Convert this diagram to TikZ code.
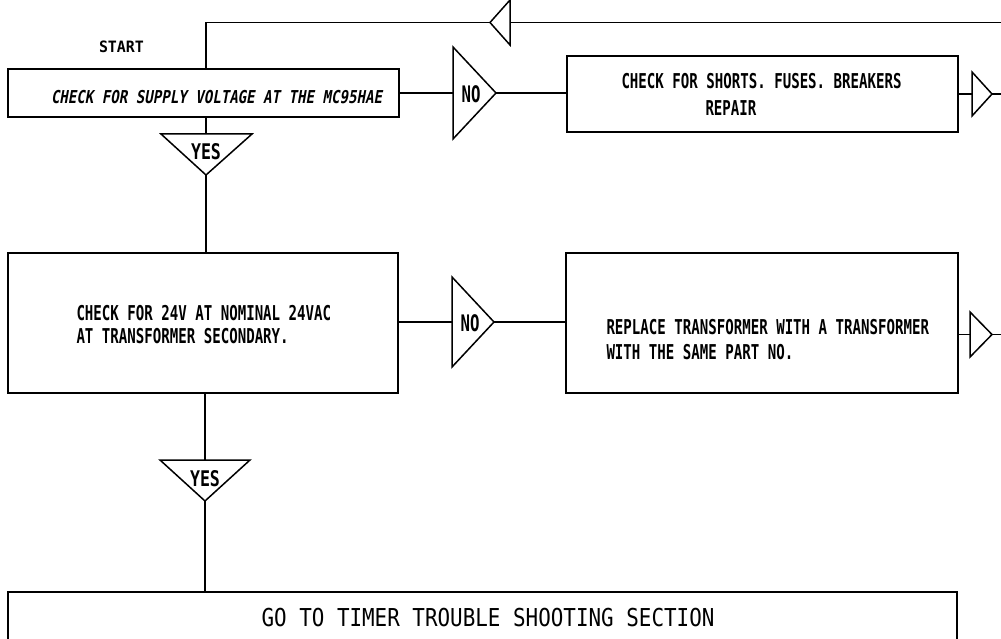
\documentclass[tikz,border=0pt]{standalone}
\usepackage{fontspec}
\usepackage{graphicx}
\newfontfamily\plotfont{DejaVu Sans Mono}
\newfontfamily\plotslant[FakeSlant=0.22]{DejaVu Sans Mono}
\newcommand\ptxt[3]{\scalebox{1}[#2]{\plotfont\bfseries\fontsize{#1pt}{#1pt}\selectfont #3}}
\newcommand\prtxt[3]{\scalebox{1}[#2]{\plotfont\fontsize{#1pt}{#1pt}\selectfont #3}}
\newcommand\pslant[3]{\scalebox{1}[#2]{\plotslant\bfseries\fontsize{#1pt}{#1pt}\selectfont #3}}
\begin{document}
\begin{tikzpicture}[x=1pt,y=-1pt,line width=1.5pt,
  box/.style={draw,rectangle,inner sep=0pt,outer sep=0pt,line width=1.8pt},
  lbl/.style={inner sep=0pt,outer sep=0pt},
  tri/.style={draw,line width=1.5pt,line join=miter}]
\useasboundingbox (0,0) rectangle (1001,639);
\clip (0,0) rectangle (1001,639);
\fill[white] (0,0) rectangle (1001,639);

% boxes
\node[box,minimum width=391pt,minimum height=48pt] (b1) at (203.5,93) {};
\node[box,minimum width=391pt,minimum height=76pt] (b2) at (762.5,94) {};
\node[box,minimum width=390pt,minimum height=140pt] (b3) at (203,323) {};
\node[box,minimum width=392pt,minimum height=140pt] (b4) at (762,323) {};
\node[box,minimum width=949pt,minimum height=80pt] (b5) at (482.5,632) {};

% triangles
\draw[tri] (510,0) -- (510,45) -- (490,22.5) -- cycle;
\coordinate (tlb) at (510,22.5); \coordinate (tla) at (490,22.5);
\draw[tri] (453,47) -- (453,139) -- (496,93) -- cycle;
\coordinate (n1b) at (453,93); \coordinate (n1a) at (496,93);
\draw[tri] (972,72) -- (972,116) -- (992,94) -- cycle;
\coordinate (s1b) at (972,94); \coordinate (s1a) at (992,94);
\draw[tri] (161,134) -- (252,134) -- (206,175) -- cycle;
\coordinate (y1b) at (206,134); \coordinate (y1a) at (206,175);
\draw[tri] (452,277) -- (452,367) -- (494,322) -- cycle;
\coordinate (n2b) at (452,322); \coordinate (n2a) at (494,322);
\draw[tri] (970,312) -- (970,357) -- (992,334.5) -- cycle;
\coordinate (s2b) at (970,334.5); \coordinate (s2a) at (992,334.5);
\draw[tri] (160,460) -- (250,460) -- (205,501) -- cycle;
\coordinate (y2b) at (205,460); \coordinate (y2a) at (205,501);

% free ends
\coordinate (lr) at (1001,22.5);
\coordinate (lc) at (206,22.5);
\coordinate (e1) at (1001,94);
\coordinate (e2) at (1001,334.5);

% connectors
\draw (lr) -- (tlb);
\draw (tla) -- (lc) -- (lc |- b1.north);
\draw (b1.east |- n1b) -- (n1b);
\draw (n1a) -- (n1a -| b2.west);
\draw (b2.east |- s1b) -- (s1b);
\draw (s1a) -- (e1);
\draw (y1b |- b1.south) -- (y1b);
\draw (y1a) -- (y1a |- b3.north);
\draw (b3.east |- n2b) -- (n2b);
\draw (n2a) -- (n2a -| b4.west);
\draw (b4.east |- s2b) -- (s2b);
\draw (s2a) -- (e2);
\draw (y2b |- b3.south) -- (y2b);
\draw (y2a) -- (y2a |- b5.north);

% texts
\node[lbl,anchor=base west] (start) at (99,53) {\ptxt{14.9}{1.05}{START}};
\node[lbl,anchor=base west] (t1) at (51,103.5) {\pslant{14.1}{1.26}{CHECK FOR SUPPLY VOLTAGE AT THE MC95HAE}};
\node[lbl] (no1) at (471,94.5) {\ptxt{15.7}{1.45}{NO}};
\node[lbl,anchor=base west] (t2a) at (621.5,89) {\ptxt{14.1}{1.45}{CHECK FOR SHORTS. FUSES. BREAKERS}};
\node[lbl,anchor=base west] (t2b) at (705.5,116) {\ptxt{14.1}{1.45}{REPAIR}};
\node[lbl] (yes1) at (206,152) {\ptxt{16.6}{1.3}{YES}};
\node[lbl,anchor=base west] (t3a) at (76.5,320) {\ptxt{14.1}{1.45}{CHECK FOR 24V AT NOMINAL 24VAC}};
\node[lbl,anchor=base west] (t3b) at (76.5,343) {\ptxt{14.1}{1.45}{AT TRANSFORMER SECONDARY.}};
\node[lbl] (no2) at (470,323) {\ptxt{15.7}{1.45}{NO}};
\node[lbl,anchor=base west] (t4a) at (606.5,334) {\ptxt{14.1}{1.45}{REPLACE TRANSFORMER WITH A TRANSFORMER}};
\node[lbl,anchor=base west] (t4b) at (606.5,359) {\ptxt{14.1}{1.45}{WITH THE SAME PART NO.}};
\node[lbl] (yes2) at (205,479) {\ptxt{16.6}{1.3}{YES}};
\node[lbl,anchor=base] (t5) at (488,626) {\prtxt{20.9}{1.18}{GO TO TIMER TROUBLE SHOOTING SECTION}};
\end{tikzpicture}
\end{document}
